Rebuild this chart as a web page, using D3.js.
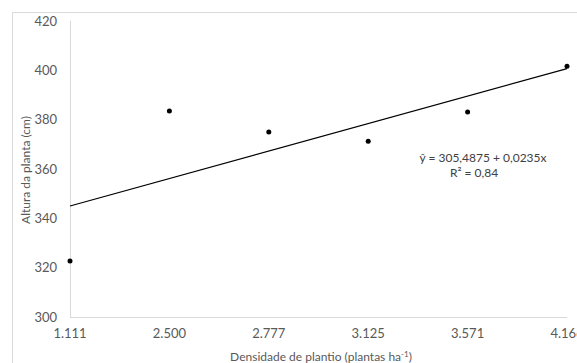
<!DOCTYPE html>
<html>
<head>
<meta charset="utf-8">
<script src="https://cdn.jsdelivr.net/npm/d3@7"></script>
<style>
  body { margin: 0; background: #fff; }
  svg text { font-family: Lato, "Open Sans", sans-serif; fill: #595959; }
</style>
</head>
<body>
<div id="chart"></div>
<script>
// densidade de plantio (plantas/ha) vs altura da planta (cm)
const densidades = ["1.111", "2.500", "2.777", "3.125", "3.571", "4.166"];
const alturas = [322.7, 383.5, 375.0, 371.2, 383.1, 401.7];
const yTicks = [300, 320, 340, 360, 380, 400, 420];
const equacao = "ŷ = 305,4875 + 0,0235x";
const r2 = "R² = 0,84";

const W = 577, H = 363;
const svg = d3.select("#chart").append("svg")
    .attr("width", W)
    .attr("height", H);

// chart area border (goes off the picture right/bottom)
svg.append("rect")
    .attr("x", 12.5).attr("y", 12.5)
    .attr("width", W).attr("height", H)
    .attr("fill", "none")
    .attr("stroke", "#d9d9d9");

const x = d3.scalePoint()
    .domain(densidades)
    .range([70, 567])
    .padding(0);
const y = d3.scaleLinear()
    .domain([300, 420])
    .range([317, 21]);

// axis lines
svg.append("line")
    .attr("x1", 70.5).attr("x2", 70.5)
    .attr("y1", y(420)).attr("y2", y(300))
    .attr("stroke", "#d9d9d9");
svg.append("line")
    .attr("x1", 70).attr("x2", 567)
    .attr("y1", y(300) + 0.5).attr("y2", y(300) + 0.5)
    .attr("stroke", "#d9d9d9");

// tick labels
svg.selectAll("text.ytick")
    .data(yTicks)
    .enter().append("text")
    .attr("class", "ytick")
    .attr("x", 57)
    .attr("y", d => y(d))
    .attr("dy", "0.35em")
    .attr("text-anchor", "end")
    .style("font-size", "13px")
    .text(d => d);

svg.selectAll("text.xtick")
    .data(densidades)
    .enter().append("text")
    .attr("class", "xtick")
    .attr("x", d => x(d))
    .attr("y", 338)
    .attr("text-anchor", "middle")
    .style("font-size", "13px")
    .text(d => d);

// axis titles
const xt = svg.append("text")
    .attr("x", 321).attr("y", 361)
    .attr("text-anchor", "middle")
    .style("font-size", "12px")
    .text("Densidade de plantio (plantas ha");
xt.append("tspan").attr("dy", -4).style("font-size", "8px").text("-1");
xt.append("tspan").attr("dy", 4).text(")");

svg.append("text")
    .attr("transform", "translate(30,170) rotate(-90)")
    .attr("text-anchor", "middle")
    .style("font-size", "12px")
    .text("Altura da planta (cm)");

// linear trendline on category index (as the spreadsheet draws it)
const idx = densidades.map((d, i) => i + 1);
const mx = d3.mean(idx), my = d3.mean(alturas);
const slope = d3.sum(idx, (v, i) => (v - mx) * (alturas[i] - my)) /
              d3.sum(idx, v => (v - mx) * (v - mx));
const icpt = my - slope * mx;
svg.append("line")
    .attr("x1", x(densidades[0]))
    .attr("y1", y(icpt + slope * 1))
    .attr("x2", x(densidades[densidades.length - 1]))
    .attr("y2", y(icpt + slope * densidades.length))
    .attr("stroke", "#000")
    .attr("stroke-width", 1.2);

// points
svg.selectAll("circle.pt")
    .data(alturas)
    .enter().append("circle")
    .attr("class", "pt")
    .attr("cx", (d, i) => x(densidades[i]))
    .attr("cy", d => y(d))
    .attr("r", 2.5)
    .attr("fill", "#000");

// equation label
svg.append("text")
    .attr("x", 483).attr("y", 162)
    .attr("text-anchor", "middle")
    .style("font-size", "12px")
    .style("fill", "#404040")
    .text(equacao);
svg.append("text")
    .attr("x", 474).attr("y", 177)
    .attr("text-anchor", "middle")
    .style("font-size", "12px")
    .style("fill", "#404040")
    .text(r2);
</script>
</body>
</html>
